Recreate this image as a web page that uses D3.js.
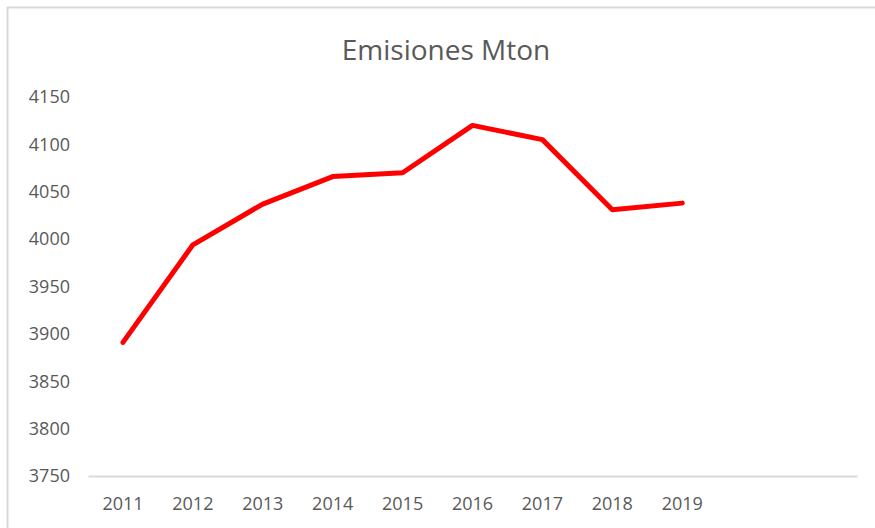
<!DOCTYPE html>
<html>
<head>
<meta charset="utf-8">
<script src="https://cdn.jsdelivr.net/npm/d3@7"></script>
<style>
  html, body { margin: 0; padding: 0; background: #fff; }
  svg { display: block; }
  text { font-family: "Open Sans", "Noto Sans", sans-serif; fill: #595959; }
</style>
</head>
<body>
<script>
const title = "Emisiones Mton";
const categories = ["2011", "2012", "2013", "2014", "2015", "2016", "2017", "2018", "2019"];
const values = [3891, 3994, 4037, 4066, 4070, 4120, 4105, 4031, 4038];
const emptySlots = ["", " "];           // two empty categories at the right of the axis
const yTicks = [3750, 3800, 3850, 3900, 3950, 4000, 4050, 4100, 4150];

const W = 875, H = 528;
const margin = { left: 88, right: 18, top: 97, bottom: 52 };

const svg = d3.select("body").append("svg").attr("width", W).attr("height", H);

// chart frame (top and left edges visible)
svg.append("line").attr("x1", 7).attr("x2", W).attr("y1", 7.5).attr("y2", 7.5)
  .attr("stroke", "#d9d9d9").attr("stroke-width", 2);
svg.append("line").attr("x1", 7.5).attr("x2", 7.5).attr("y1", 7).attr("y2", H)
  .attr("stroke", "#d9d9d9").attr("stroke-width", 2);

const x = d3.scaleBand()
  .domain(categories.concat(emptySlots))
  .range([margin.left, W - margin.right]);

const y = d3.scaleLinear()
  .domain([3750, 4150])
  .range([H - margin.bottom, margin.top]);

// title
svg.append("text")
  .attr("x", 446).attr("y", 60)
  .attr("text-anchor", "middle")
  .attr("font-size", 28)
  .text(title);

// y axis (labels only)
const yAxis = svg.append("g")
  .attr("transform", `translate(${margin.left},0)`)
  .call(d3.axisLeft(y).tickValues(yTicks).tickSize(0).tickPadding(18).tickFormat(d3.format("d")));
yAxis.select(".domain").remove();
yAxis.selectAll("text").attr("font-size", 18).attr("fill", "#595959")
  .style("font-family", '"Open Sans", "Noto Sans", sans-serif');

// x axis
const xAxis = svg.append("g")
  .attr("transform", `translate(0,${H - margin.bottom})`)
  .call(d3.axisBottom(x).tickSize(0).tickPadding(21));
xAxis.select(".domain").attr("stroke", "#d9d9d9").attr("stroke-width", 2);
xAxis.selectAll("text").attr("font-size", 18).attr("fill", "#595959")
  .style("font-family", '"Open Sans", "Noto Sans", sans-serif');

// line
const line = d3.line()
  .x((d, i) => x(categories[i]) + x.bandwidth() / 2)
  .y(d => y(d));

svg.append("path")
  .datum(values)
  .attr("fill", "none")
  .attr("stroke", "#ff0000")
  .attr("stroke-width", 5)
  .attr("stroke-linejoin", "round")
  .attr("stroke-linecap", "round")
  .attr("d", line);
</script>
</body>
</html>
